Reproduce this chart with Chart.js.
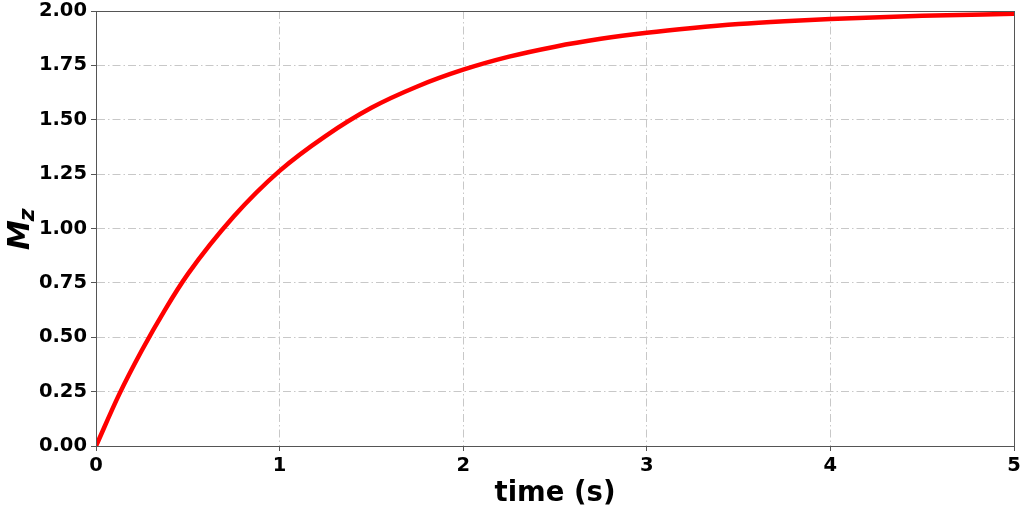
<!DOCTYPE html>
<html>
<head>
<meta charset="utf-8">
<script src="https://cdn.jsdelivr.net/npm/chart.js@4"></script>
<style>
  html, body { margin: 0; padding: 0; background: #fff; }
  #wrap { width: 1024px; height: 512px; }
</style>
</head>
<body>
<div id="wrap"><canvas id="mz-chart" width="1024" height="512"></canvas></div>
<script>
// values
const timeValues = [0, 0.125, 0.25, 0.375, 0.5, 0.75, 1, 1.25, 1.5, 1.75, 2, 2.25, 2.5, 2.75, 3, 3.25, 3.5, 3.75, 4, 4.5, 5];
const mzValues = [0, 0.235, 0.44, 0.625, 0.79, 1.055, 1.265, 1.425, 1.555, 1.653, 1.73, 1.79, 1.836, 1.872, 1.9, 1.922, 1.94, 1.953, 1.963, 1.978, 1.987];
const xTicks = [0, 1, 2, 3, 4, 5];
const yTicks = [0, 0.25, 0.5, 0.75, 1, 1.25, 1.5, 1.75, 2];

const ctx = document.querySelector('#mz-chart').getContext("2d");
const tickFont = { family: "DejaVu Sans", size: 19.5, weight: "bold" };
const gridDash = [8, 3, 1.5, 3];

// box around plot + rotated M_z label with subscript
const frameAndLabel = {
  id: 'frameAndLabel',
  afterDraw(chart) {
    const a = chart.chartArea;
    const c = chart.ctx;
    c.save();
    c.strokeStyle = '#555';
    c.lineWidth = 1;
    c.strokeRect(a.left + 0.5, a.top + 0.5, a.right - a.left, a.bottom - a.top);
    c.translate(29, 250);
    c.rotate(-Math.PI / 2);
    c.fillStyle = '#000';
    c.textBaseline = 'alphabetic';
    c.font = 'italic bold 30px "DejaVu Sans"';
    c.fillText('M', 0, 0);
    const w = c.measureText('M').width;
    c.font = 'italic bold 22px "DejaVu Sans"';
    c.fillText('z', w - 1, 5);
    c.restore();
  }
};

const mzChart = new Chart(ctx, {
  type: 'line',
  data: {
    datasets: [{
      label: 'Mz',
      data: timeValues.map((t, i) => ({ x: t, y: mzValues[i] })),
      borderColor: '#ff0000',
      borderWidth: 4.5,
      pointRadius: 0,
      fill: false,
      cubicInterpolationMode: 'monotone'
    }]
  },
  options: {
    responsive: false,
    animation: false,
    layout: { padding: { top: 11, right: 10, left: 0, bottom: 0 } },
    plugins: { legend: { display: false }, tooltip: { enabled: false } },
    scales: {
      x: {
        type: 'linear',
        min: 0,
        max: 5,
        afterBuildTicks: (scale) => { scale.ticks = xTicks.map(v => ({ value: v })); },
        afterFit: (scale) => { scale.height = 66; scale.paddingLeft = 0; scale.paddingRight = 0; },
        ticks: { font: tickFont, color: '#000', padding: 3, maxRotation: 0 },
        grid: { color: '#c8c8c8', lineWidth: 1, tickLength: 5, tickColor: '#555' },
        border: { display: true, color: '#555', dash: gridDash },
        title: { display: true, text: 'time (s)', color: '#000', font: { family: "DejaVu Sans", size: 27.5, weight: "bold" }, padding: { top: 0, bottom: 2 } }
      },
      y: {
        type: 'linear',
        min: 0,
        max: 2,
        afterBuildTicks: (scale) => { scale.ticks = yTicks.map(v => ({ value: v })); },
        afterFit: (scale) => { scale.width = 96; scale.paddingTop = 0; scale.paddingBottom = 0; },
        ticks: { font: tickFont, color: '#000', padding: 4, callback: (v) => v.toFixed(2) },
        grid: { color: '#c8c8c8', lineWidth: 1, tickLength: 5, tickColor: '#555' },
        border: { display: true, color: '#555', dash: gridDash }
      }
    }
  },
  plugins: [frameAndLabel]
});
</script>
</body>
</html>
